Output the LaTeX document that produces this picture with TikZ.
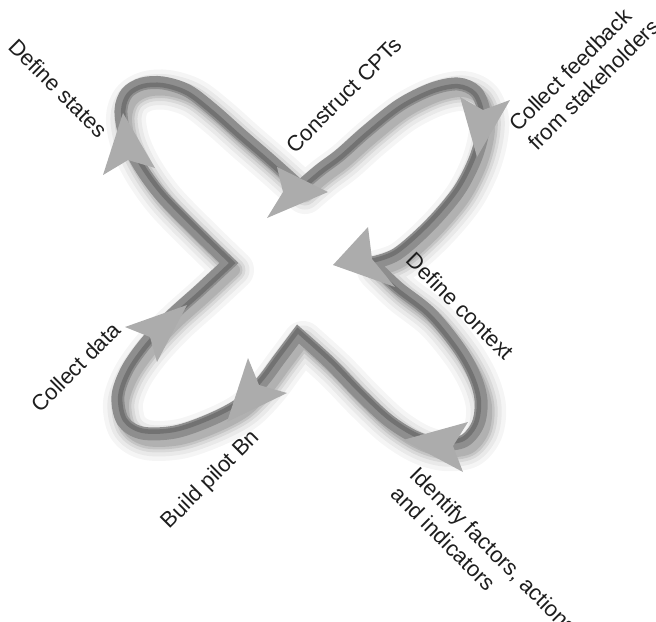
\documentclass[tikz,border=0pt]{standalone}
\usepackage{fontspec}
\setmainfont{Liberation Sans}

\definecolor{bandgray}{RGB}{142,142,142}
\definecolor{bandinner}{RGB}{114,114,114}
\definecolor{headgray}{RGB}{172,172,172}
\definecolor{labelink}{RGB}{30,30,30}

% closed centre line of the four-lobed cycle (pixel units, y down)
\newcommand{\cycleline}{%
  plot[smooth, tension=0.55] coordinates {(229,263) (195,230) (160,194) (138,163) (125,135) (121,110) (127,93) (142,84) (163,83) (188,91) (213,110) (240,134) (270,160) (300,187)}
  -- plot[smooth, tension=0.55] coordinates {(300,187) (320,170) (340,155) (367,131) (400,105) (432,89) (458,84) (476,92) (484,112) (482,136) (474,162) (458,192) (430,225) (397,254) (372,263)}
  -- plot[smooth, tension=0.55] coordinates {(372,263) (397,287) (430,313) (458,347) (474,375) (481,400) (478,424) (464,441) (440,444) (415,437) (388,420) (360,394) (330,363) (298,334)}
  -- plot[smooth, tension=0.55] coordinates {(298,334) (280,358) (262,382) (240,404) (210,420) (175,432) (142,433) (123,421) (118,396) (127,370) (145,344) (170,317) (200,290) (229,263)}
  -- cycle}

\begin{document}
\begin{tikzpicture}[
  x=0.5pt, y=-0.5pt,
  bandline/.style={draw=bandgray, line width=6.5pt, line join=miter, miter limit=8},
  innerline/.style={draw=bandinner, line width=4.5pt, line join=miter, miter limit=8},
  headfill/.style={fill=headgray},
  lbl/.style={font=\fontsize{11}{13.5}\selectfont, text=labelink, inner sep=0pt, align=left}
]
  \useasboundingbox (0,0) rectangle (656,621);

  % soft shadow under the band
  \foreach \w/\o in {40/0.04, 31/0.05, 23/0.07, 17/0.09, 12/0.1} {
    \draw[shift={(5,7)}, line width=\w*0.5pt, draw=black, opacity=\o, line join=round] \cycleline;
  }

  % the band, darker on its inner side
  \draw[bandline] \cycleline;
  \begin{scope}
    \clip \cycleline;
    \draw[innerline] \cycleline;
  \end{scope}

  % arrow heads along the cycle
  \fill[headfill] (123,113) -- (155,168) -- (128,160) -- (103,175) -- cycle;
  \fill[headfill] (328,192) -- (267,218) -- (283,192) -- (277,167) -- cycle;
  \fill[headfill] (477,157) -- (460,97) -- (483,110) -- (510,100) -- cycle;
  \fill[headfill] (333,265) -- (368,227) -- (372,259) -- (395,287) -- cycle;
  \fill[headfill] (403,440) -- (468,422) -- (453,446) -- (463,472) -- cycle;
  \fill[headfill] (227,422) -- (248,358) -- (259,385) -- (287,393) -- cycle;
  \fill[headfill] (187,305) -- (125,327) -- (150,337) -- (157,362) -- cycle;

  % step labels
  \node[lbl, rotate=-45] (states) at (58,88) {Define states};
  \node[lbl, rotate=45] (cpts) at (344,95) {Construct CPTs};
  \node[lbl, rotate=45] (feedback) at (584,75) {Collect feedback\\from stakeholders};
  \node[lbl, rotate=-45] (context) at (460,306) {Define context};
  \node[lbl, rotate=45] (data) at (76,367) {Collect data};
  \node[lbl, rotate=45] (pilot) at (211,480) {Build pilot Bn};
  \node[lbl, rotate=-45] (factors) at (484,560) {Identify factors, actions\\and indicators};

\end{tikzpicture}
\end{document}
